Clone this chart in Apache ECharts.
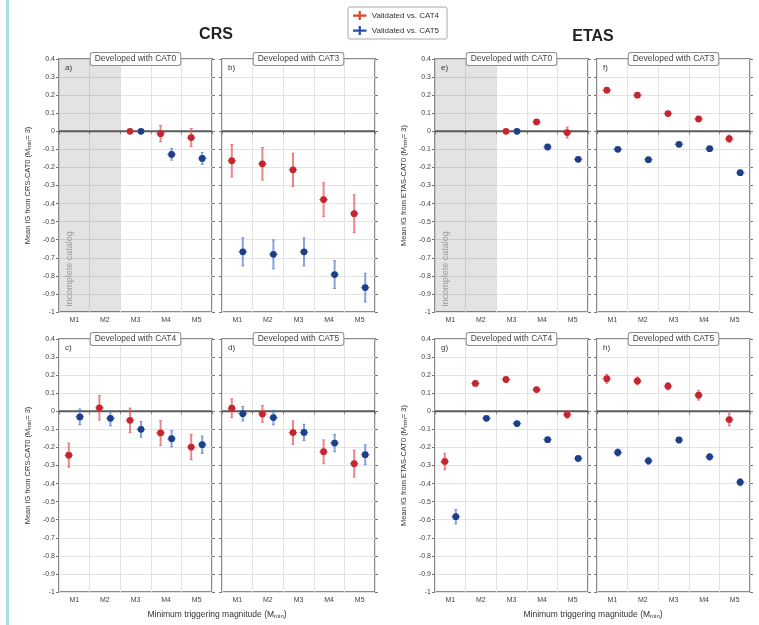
<!DOCTYPE html>
<html>
<head>
<meta charset="utf-8">
<script src="https://cdn.jsdelivr.net/npm/echarts@6/dist/echarts.min.js"></script>
<style>
html, body { margin: 0; padding: 0; background: #fff; }
#chart { width: 759px; height: 625px; }
</style>
</head>
<body>
<div id="chart"></div>
<script>
const categories = ['M1', 'M2', 'M3', 'M4', 'M5'];
const yMin = -1, yMax = 0.4, yStep = 0.1;
const legendNames = ['Validated vs. CAT4', 'Validated vs. CAT5'];

// a) CRS, developed with CAT0
const aRed = [null, null, 0.0, -0.013, -0.035];
const aRedErr = [null, null, 0.005, 0.045, 0.05];
const aBlue = [null, null, 0.0, -0.128, -0.15];
const aBlueErr = [null, null, 0.005, 0.032, 0.033];
// b) CRS, developed with CAT3
const bRed = [-0.163, -0.18, -0.213, -0.378, -0.456];
const bRedErr = [0.09, 0.09, 0.092, 0.094, 0.105];
const bBlue = [-0.667, -0.681, -0.667, -0.793, -0.865];
const bBlueErr = [0.078, 0.08, 0.078, 0.077, 0.08];
// c) CRS, developed with CAT4
const cRed = [-0.243, 0.019, -0.05, -0.12, -0.198];
const cRedErr = [0.067, 0.068, 0.068, 0.07, 0.07];
const cBlue = [-0.031, -0.039, -0.1, -0.152, -0.185];
const cBlueErr = [0.044, 0.042, 0.043, 0.045, 0.048];
// d) CRS, developed with CAT5
const dRed = [0.017, -0.015, -0.118, -0.224, -0.29];
const dRedErr = [0.052, 0.046, 0.065, 0.066, 0.074];
const dBlue = [-0.013, -0.035, -0.117, -0.176, -0.24];
const dBlueErr = [0.04, 0.04, 0.045, 0.048, 0.055];
// e) ETAS, developed with CAT0
const eRed = [null, null, 0.0, 0.052, -0.007];
const eRedErr = [null, null, 0.004, 0.01, 0.03];
const eBlue = [null, null, 0.0, -0.087, -0.155];
const eBlueErr = [null, null, 0.004, 0.008, 0.01];
// f) ETAS, developed with CAT3
const fRed = [0.227, 0.2, 0.098, 0.068, -0.041];
const fRedErr = [0.008, 0.008, 0.008, 0.008, 0.02];
const fBlue = [-0.1, -0.157, -0.072, -0.096, -0.229];
const fBlueErr = [0.008, 0.008, 0.008, 0.008, 0.008];
// g) ETAS, developed with CAT4
const gRed = [-0.278, 0.154, 0.176, 0.12, -0.018];
const gRedErr = [0.046, 0.01, 0.012, 0.01, 0.02];
const gBlue = [-0.583, -0.039, -0.068, -0.157, -0.261];
const gBlueErr = [0.04, 0.008, 0.008, 0.01, 0.01];
// h) ETAS, developed with CAT5
const hRed = [0.18, 0.168, 0.139, 0.089, -0.046];
const hRedErr = [0.025, 0.022, 0.02, 0.027, 0.035];
const hBlue = [-0.228, -0.274, -0.159, -0.252, -0.392];
const hBlueErr = [0.02, 0.02, 0.015, 0.018, 0.02];

const FONT = 'Liberation Sans, Arial, sans-serif';
const RED = '#c3262e', RED_BAR = 'rgba(228,82,92,0.7)';
const BLUE = '#1d3f8a', BLUE_BAR = 'rgba(72,112,200,0.65)';
const W = 153, H = 253;

const panels = [
  { tag: 'a)', strip: 'Developed with CAT0', left: 59, top: 59, red: aRed, redErr: aRedErr, blue: aBlue, blueErr: aBlueErr, shaded: true, yName: 'CRS' },
  { tag: 'b)', strip: 'Developed with CAT3', left: 222, top: 59, red: bRed, redErr: bRedErr, blue: bBlue, blueErr: bBlueErr },
  { tag: 'c)', strip: 'Developed with CAT4', left: 59, top: 339, red: cRed, redErr: cRedErr, blue: cBlue, blueErr: cBlueErr, yName: 'CRS' },
  { tag: 'd)', strip: 'Developed with CAT5', left: 222, top: 339, red: dRed, redErr: dRedErr, blue: dBlue, blueErr: dBlueErr },
  { tag: 'e)', strip: 'Developed with CAT0', left: 435, top: 59, red: eRed, redErr: eRedErr, blue: eBlue, blueErr: eBlueErr, shaded: true, yName: 'ETAS' },
  { tag: 'f)', strip: 'Developed with CAT3', left: 597, top: 59, red: fRed, redErr: fRedErr, blue: fBlue, blueErr: fBlueErr },
  { tag: 'g)', strip: 'Developed with CAT4', left: 435, top: 339, red: gRed, redErr: gRedErr, blue: gBlue, blueErr: gBlueErr, yName: 'ETAS' },
  { tag: 'h)', strip: 'Developed with CAT5', left: 597, top: 339, red: hRed, redErr: hRedErr, blue: hBlue, blueErr: hBlueErr }
];

function toPoints(values, errs, shift) {
  const out = [];
  values.forEach((v, k) => {
    if (v !== null) out.push([k + 0.5 + shift, v, errs[k]]);
  });
  return out;
}

function errorBarItem(barColor) {
  return function (params, api) {
    const x = api.value(0), y = api.value(1), e = api.value(2);
    const c = api.coord([x, y]);
    const hi = api.coord([x, y + e]);
    const lo = api.coord([x, y - e]);
    const pointColor = api.visual('color');
    return {
      type: 'group',
      children: [
        { type: 'line', shape: { x1: c[0], y1: hi[1], x2: c[0], y2: lo[1] }, style: { stroke: barColor, lineWidth: 2 } },
        { type: 'line', shape: { x1: c[0] - 1.5, y1: hi[1], x2: c[0] + 1.5, y2: hi[1] }, style: { stroke: barColor, lineWidth: 1 } },
        { type: 'line', shape: { x1: c[0] - 1.5, y1: lo[1], x2: c[0] + 1.5, y2: lo[1] }, style: { stroke: barColor, lineWidth: 1 } },
        { type: 'line', shape: { x1: c[0] - 4.5, y1: c[1], x2: c[0] + 4.5, y2: c[1] }, style: { stroke: barColor, lineWidth: 1.2 } },
        { type: 'circle', shape: { cx: c[0], cy: c[1], r: 3.4 }, style: { fill: pointColor } }
      ]
    };
  };
}

function panelBackItem(shaded) {
  return function (params, api) {
    const children = [];
    if (shaded) {
      const p0 = api.coord([0, yMax]), p1 = api.coord([2, yMin]);
      children.push({ type: 'rect', shape: { x: p0[0], y: p0[1], width: p1[0] - p0[0], height: p1[1] - p0[1] }, style: { fill: 'rgba(0,0,0,0.11)' } });
    }
    const z0 = api.coord([0, 0]), z1 = api.coord([5, 0]);
    children.push({ type: 'line', shape: { x1: z0[0], y1: z0[1], x2: z1[0], y2: z1[1] }, style: { stroke: '#5a5a5a', lineWidth: 2 } });
    return { type: 'group', children: children };
  };
}

const grid = [], xAxis = [], yAxis = [], series = [], graphic = [];

graphic.push({ type: 'rect', left: 6, top: 0, shape: { width: 3, height: 625 }, style: { fill: '#a9dde5' } });

panels.forEach((p, i) => {
  grid.push({ left: p.left, top: p.top, width: W, height: H, show: true, borderColor: '#8c8c8c', borderWidth: 2, backgroundColor: 'transparent', outerBoundsMode: 'none' });
  xAxis.push({
    type: 'category', gridIndex: i, data: categories, boundaryGap: true,
    axisLine: { show: false },
    axisTick: { show: true, length: 3, lineStyle: { color: '#888' } },
    axisLabel: { fontSize: 7, color: '#444', margin: 5, fontFamily: FONT },
    splitLine: { show: true, lineStyle: { color: '#e3e3e3', width: 1 } }
  });
  xAxis.push({ type: 'value', gridIndex: i, min: 0, max: 5, show: false });
  const yName = p.yName ? 'Mean IG from ' + p.yName + '-CAT0 (M{s|min}= 3)' : '';
  yAxis.push({
    type: 'value', gridIndex: i, min: yMin, max: yMax, interval: yStep,
    name: yName, nameLocation: 'middle', nameRotate: 90, nameGap: 27,
    nameTextStyle: { fontSize: 7.5, color: '#333', fontFamily: FONT, rich: { s: { fontSize: 5.5, color: '#333', verticalAlign: 'bottom', fontFamily: FONT } } },
    axisLine: { show: false },
    axisTick: { show: true, length: 3, lineStyle: { color: '#777' } },
    axisLabel: { show: !!p.yName, fontSize: 7, color: '#444', margin: 4, fontFamily: FONT, formatter: v => String(Math.round(v * 10) / 10) },
    splitLine: { show: true, lineStyle: { color: '#e3e3e3', width: 1 } }
  });
  yAxis.push({
    type: 'value', gridIndex: i, min: yMin, max: yMax, interval: yStep, position: 'right',
    axisLine: { show: false },
    axisTick: { show: true, length: 3, lineStyle: { color: '#777' } },
    axisLabel: { show: false }, splitLine: { show: false }
  });
  series.push({
    type: 'custom', xAxisIndex: 2 * i + 1, yAxisIndex: 2 * i, silent: true, z: 1,
    renderItem: panelBackItem(p.shaded), data: [[0, 0]]
  });
  series.push({
    type: 'custom', name: legendNames[0], xAxisIndex: 2 * i + 1, yAxisIndex: 2 * i, z: 3,
    itemStyle: { color: RED }, renderItem: errorBarItem(RED_BAR),
    data: toPoints(p.red, p.redErr, -0.18)
  });
  series.push({
    type: 'custom', name: legendNames[1], xAxisIndex: 2 * i + 1, yAxisIndex: 2 * i, z: 3,
    itemStyle: { color: BLUE }, renderItem: errorBarItem(BLUE_BAR),
    data: toPoints(p.blue, p.blueErr, 0.18)
  });

  graphic.push({
    type: 'text', x: p.left + W / 2, y: p.top, z: 10,
    style: { text: p.strip, fontSize: 8.5, fontFamily: FONT, fill: '#444', align: 'center', verticalAlign: 'middle',
      backgroundColor: '#fff', borderColor: '#8c8c8c', borderWidth: 1, borderRadius: 2, padding: [2, 4, 1, 4] }
  });
  graphic.push({
    type: 'text', x: p.left + 6, y: p.top + 9, z: 10,
    style: { text: p.tag, fontSize: 8, fontFamily: FONT, fill: '#333', verticalAlign: 'middle' }
  });
  if (p.shaded) {
    graphic.push({
      type: 'text', x: p.left + 11, y: p.top + 210, rotation: Math.PI / 2, z: 10,
      style: { text: 'Incomplete catalog', fontSize: 9, fontFamily: FONT, fill: '#9a9a9a', align: 'center', verticalAlign: 'middle' }
    });
  }
});

graphic.push({ type: 'text', x: 216, y: 35, style: { text: 'CRS', fontSize: 16, fontWeight: 'bold', fontFamily: FONT, fill: '#222', align: 'center', verticalAlign: 'middle' } });
graphic.push({ type: 'text', x: 593, y: 37, style: { text: 'ETAS', fontSize: 16, fontWeight: 'bold', fontFamily: FONT, fill: '#222', align: 'center', verticalAlign: 'middle' } });
[217, 593].forEach(cx => {
  graphic.push({
    type: 'text', x: cx, y: 615,
    style: { text: 'Minimum triggering magnitude (M{s|min})', fontSize: 8.5, fontFamily: FONT, fill: '#333', align: 'center', verticalAlign: 'middle',
      rich: { s: { fontSize: 6, fontFamily: FONT, fill: '#333', verticalAlign: 'bottom' } } }
  });
});

const chart = echarts.init(document.getElementById('chart'));
chart.setOption({
  animation: false,
  textStyle: { fontFamily: FONT },
  grid: grid,
  xAxis: xAxis,
  yAxis: yAxis,
  legend: {
    left: 348, top: 7, orient: 'vertical', padding: [4, 8, 4, 5], itemGap: 6, itemWidth: 14, itemHeight: 9,
    borderColor: '#aaa', borderWidth: 1, borderRadius: 2, backgroundColor: '#fff',
    textStyle: { fontSize: 8, color: '#333', fontFamily: FONT },
    data: [
      { name: legendNames[0], icon: 'path://M0,3H5V0H7V3H12V5H7V8H5V5H0Z', itemStyle: { color: '#d9492c' } },
      { name: legendNames[1], icon: 'path://M0,3H5V0H7V3H12V5H7V8H5V5H0Z', itemStyle: { color: '#2a4fa8' } }
    ]
  },
  graphic: graphic,
  series: series
});
</script>
</body>
</html>
